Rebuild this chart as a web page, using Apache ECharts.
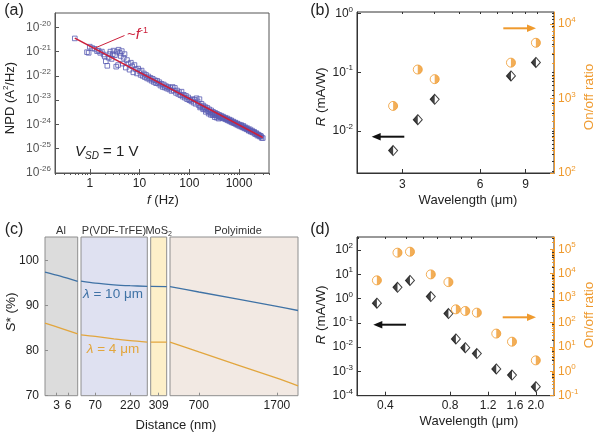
<!DOCTYPE html>
<html><head><meta charset="utf-8">
<script src="https://cdn.jsdelivr.net/npm/echarts@6/dist/echarts.min.js"></script>
<style>html,body{margin:0;padding:0;background:#fff}#c{width:600px;height:436px}</style>
</head><body><div id="c"></div>
<script>
// ---------------- (a) noise power density ----------------
const noiseFreq = [0.5,0.88,0.95,1.0,1.12,1.25,1.4,1.5,1.62,1.75,1.9,2.0,2.1,2.25,2.4,2.5,2.6,2.75,2.9,3.0,3.2,3.4,3.5,3.7,3.8,4.0,4.2,4.4,4.6,4.8,5.0,5.3,5.6,6.0,6.3,6.7,7.1,7.5,7.9,8.4,8.9,9.4,10,
10.5,11,11.6,12.2,12.8,13.5,14.2,15,15.8,16.6,17.5,18.4,19.4,20.4,21.5,22.6,23.8,25,26.3,27.7,29.2,30.7,32.3,34,35.8,37.7,39.7,41.8,44,46.3,48.7,51.3,54,56.8,59.8,63,66.3,69.8,73.5,77.4,81.5,85.8,90.3,95,100,
105,110,116,122,128,134,140,147,154,160,168,176,184,192,200,210,220,230,240,250,262,275,288,300,315,330,345,360,378,396,415,435,455,477,500,525,550,575,603,632,662,694,727,762,798,836,876,918,962,1000,
165,190,215,245,270,295,325,355,390,
1050,1100,1160,1220,1280,1350,1420,1490,1570,1650,1730,1820,1910,2010,2110,2220,2330,2450,2570,2700,2840,3000,
320,410,470,540,590,650,710,780,850,940,1130,1250,1380,1530,1690,1860,2060,2280,2510,2770];
const noisePSD = [3.5e-21,9.5e-22,8.9e-22,1.6e-21,1.4e-21,1.3e-21,1.05e-21,1.1e-21,8.9e-22,1.0e-21,7.6e-22,6.3e-22,4.0e-22,2.6e-22,5.6e-22,7.9e-22,1.0e-21,5.0e-22,7.9e-22,1.1e-21,7.1e-22,2.4e-22,1.0e-21,2.8e-22,1.2e-21,8.9e-22,6.6e-22,1.05e-21,3.2e-22,5.6e-22,7.9e-22,2.2e-22,4.5e-22,3.2e-22,1.8e-22,3.5e-22,2.5e-22,1.4e-22,2.8e-22,1.9e-22,1.26e-22,2.0e-22,1.6e-22,
1.1e-22,1.66e-22,1.0e-22,1.26e-22,8.9e-23,1.1e-22,7.9e-23,9.5e-23,7.1e-23,8.3e-23,6.3e-23,7.6e-23,5.6e-23,6.6e-23,5.0e-23,6.3e-23,4.8e-23,5.5e-23,4.0e-23,4.7e-23,3.5e-23,4.4e-23,3.3e-23,3.8e-23,3.0e-23,3.5e-23,2.75e-23,3.2e-23,2.4e-23,3.5e-23,2.5e-23,3.2e-23,2.0e-23,2.5e-23,1.8e-23,2.1e-23,1.6e-23,2.24e-23,1.4e-23,1.66e-23,1.26e-23,1.5e-23,1.1e-23,1.3e-23,1.0e-23,
1.05e-23,8.9e-24,1.1e-23,7.9e-24,1.05e-23,7.1e-24,1.2e-23,8.9e-24,6.3e-24,1.1e-23,5.6e-24,7.1e-24,5.0e-24,6.0e-24,4.5e-24,5.2e-24,4.0e-24,4.8e-24,3.5e-24,4.2e-24,3.2e-24,3.8e-24,2.8e-24,3.3e-24,2.5e-24,3.0e-24,2.4e-24,2.75e-24,2.2e-24,2.5e-24,2.0e-24,2.3e-24,1.8e-24,2.1e-24,1.74e-24,1.9e-24,1.6e-24,1.78e-24,1.45e-24,1.6e-24,1.32e-24,1.48e-24,1.2e-24,1.32e-24,1.12e-24,1.2e-24,1.0e-24,1.1e-24,9.1e-25,1.0e-24,
5.0e-24,4.2e-24,3.3e-24,2.8e-24,2.5e-24,2.4e-24,2.0e-24,1.9e-24,1.74e-24,
8.3e-25,9.5e-25,7.6e-25,8.7e-25,6.9e-25,7.6e-25,6.3e-25,6.9e-25,5.5e-25,6.3e-25,5.0e-25,5.6e-25,4.6e-25,5.0e-25,4.0e-25,4.4e-25,3.5e-25,3.8e-25,3.2e-25,3.4e-25,2.8e-25,2.75e-25,
2.7e-24,2.2e-24,1.95e-24,1.7e-24,1.55e-24,1.45e-24,1.3e-24,1.2e-24,1.1e-24,1.0e-24,8.5e-25,7.6e-25,6.8e-25,6.0e-25,5.5e-25,5.0e-25,4.5e-25,4.0e-25,3.6e-25,3.2e-25];
const fitFreq = [0.5, 3000];
const fitPSD = [3.6e-21, 2.9e-25];
const aFreqTicks = [1, 10, 100, 1000];
const aPSDTicks = [1e-26, 1e-25, 1e-24, 1e-23, 1e-22, 1e-21, 1e-20];

// ---------------- (b) mid-IR ----------------
const midWavelength = [2.76, 3.44, 4.0, 7.9, 9.87];
const midR = [0.0046, 0.0155, 0.0345, 0.0865, 0.147];
const midOnOff = [795, 2450, 1820, 3030, 5600];
const bWaveTicks = [3, 6, 9];
const bRTicks = [0.01, 0.1, 1];
const bOnOffTicks = [100, 1000, 10000];

// ---------------- (c) S* vs distance ----------------
const layerNames = ['Al', 'P(VDF-TrFE)', 'MoS{sub|2}', 'Polyimide'];
const layerTicks = [[3, 6], [70, 220], [309], [700, 1700]];
const distance = [[0, 4, 8.5], [8.5, 70, 150, 220, 294], [294, 324], [330, 700, 1700, 1970]];
const s10um = [[97.4, 96.5, 95.35], [95.4, 94.95, 94.6, 94.4, 94.25], [94.25, 94.2], [94.2, 93.0, 89.8, 88.9]];
const s4um = [[86.1, 85.0, 83.7], [83.5, 83.15, 82.6, 82.2, 81.9], [81.9, 81.9], [81.9, 79.7, 73.9, 72.2]];
const cYTicks = [70, 80, 90, 100];

// ---------------- (d) vis-NIR ----------------
const visWavelength = [0.365, 0.455, 0.52, 0.65, 0.785, 0.85, 0.94, 1.064, 1.31, 1.55, 2.0];
const visR = [0.64, 2.9, 5.5, 1.2, 0.24, 0.0216, 0.0095, 0.0054, 0.00126, 0.00071, 0.000234];
const visOnOff = [5300, 72000, 79000, 9300, 4500, 345, 295, 252, 35, 16.3, 2.8];
const dWaveTicks = [0.4, 0.8, 1.2, 1.6, 2.0];
const dRTicks = [1e-4, 1e-3, 1e-2, 1e-1, 1, 10, 100];
const dOnOffTicks = [0.1, 1, 10, 100, 1000, 1e4, 1e5];

// ---------------- styling ----------------
const FONT = '"Liberation Sans", Arial, sans-serif';
const INK = '#222';
const AX = '#333';
const ORANGE = '#ef9a2e';
const BLUE = '#3f72a5';
const GOLD = '#e2a63e';
const RED = '#cc1f3a';
const SQUARE = '#5a5db3';

function logMinor(min, max) {
  const out = [];
  for (let e = Math.floor(Math.log10(min)); e <= Math.ceil(Math.log10(max)); e++) {
    for (let k = 1; k <= 9; k++) {
      const v = +(k * Math.pow(10, e)).toPrecision(6);
      if (v >= min && v <= max) out.push(v);
    }
  }
  return out;
}
function supRich(color) {
  return {
    b: { fontSize: 12, color: color, fontFamily: FONT },
    s: { fontSize: 8, color: color, fontFamily: FONT, padding: [0, 0, 8, 0] }
  };
}
const powFmt = v => '{b|10}{s|' + Math.round(Math.log10(v)) + '}';

function mainLogAxis(grid, min, max, ticks, fmt, color, extra) {
  return Object.assign({
    type: 'log', gridIndex: grid, min: min, max: max,
    axisLine: { show: true, onZero: false, lineStyle: { color: color, width: 1 } },
    axisTick: { show: true, inside: true, length: 4, customValues: ticks, lineStyle: { color: color } },
    axisLabel: { customValues: ticks, formatter: fmt, color: color === AX ? INK : color, fontSize: 12, fontFamily: FONT, margin: 4, rich: supRich(color === AX ? INK : color) },
    splitLine: { show: false }, minorTick: { show: false }
  }, extra || {});
}
function minorLogAxis(grid, min, max, color, extra) {
  return Object.assign({
    type: 'log', gridIndex: grid, min: min, max: max,
    axisLine: { show: false }, axisLabel: { show: false }, splitLine: { show: false },
    axisTick: { show: true, inside: true, length: 2, customValues: logMinor(min, max), lineStyle: { color: color } }
  }, extra || {});
}

const cBoxes = [
  { left: 45, width: 32.7, bg: '#dcdcdc', min: 0, max: 8.5 },
  { left: 81, width: 66.3, bg: '#dfe1f1', min: 8.5, max: 294 },
  { left: 150.7, width: 16, bg: '#fdf0c9', min: 294, max: 324 },
  { left: 170, width: 128, bg: '#f2e9e3', min: 330, max: 1970 }
];

const grid = [
  { left: 55, top: 13, width: 214, height: 160, show: true, borderColor: '#555', borderWidth: 1 },
  { left: 357, top: 12, width: 197, height: 161, show: true, borderColor: AX, borderWidth: 1 }
];
cBoxes.forEach(b => grid.push({ left: b.left, top: 237, width: b.width, height: 158.7, show: true, backgroundColor: b.bg, borderColor: '#8e8e8e', borderWidth: 1 }));
grid.push({ left: 357, top: 237, width: 197, height: 158.7, show: true, borderColor: AX, borderWidth: 1 });

const xAxis = [
  mainLogAxis(0, 0.2, 4000, aFreqTicks, v => String(Math.round(v)), '#555', { axisLabel: { customValues: aFreqTicks, formatter: v => String(Math.round(v)), color: INK, fontSize: 12, fontFamily: FONT, margin: 5 } }),
  minorLogAxis(0, 0.2, 4000, '#555'),
  mainLogAxis(1, 2, 11.6, bWaveTicks, v => String(Math.round(v)), AX, { axisLabel: { customValues: bWaveTicks, formatter: v => String(Math.round(v)), color: INK, fontSize: 12, fontFamily: FONT, margin: 6 } }),
  minorLogAxis(1, 2, 11.6, AX)
];
cBoxes.forEach((b, i) => xAxis.push({
  type: 'value', gridIndex: 2 + i, min: b.min, max: b.max,
  axisLine: { show: false },
  axisTick: { show: true, inside: true, length: 3, customValues: layerTicks[i], lineStyle: { color: '#8e8e8e' } },
  axisLabel: { customValues: layerTicks[i], formatter: v => String(v), color: INK, fontSize: 12, fontFamily: FONT, margin: 4 },
  splitLine: { show: false }
}));
xAxis.push(
  mainLogAxis(6, 0.295, 2.43, dWaveTicks, v => v.toFixed(1), AX, { axisLabel: { customValues: dWaveTicks, formatter: v => v.toFixed(1), color: INK, fontSize: 12, fontFamily: FONT, margin: 4 } }),
  minorLogAxis(6, 0.295, 2.43, AX)
);

const yAxis = [
  mainLogAxis(0, 1e-26, 3.9e-20, aPSDTicks, powFmt, '#555'),
  mainLogAxis(1, 0.0019, 1.07, bRTicks, powFmt, AX),
  mainLogAxis(1, 100, 14500, bOnOffTicks, powFmt, ORANGE, { position: 'right' }),
  minorLogAxis(1, 0.0019, 1.07, AX),
  minorLogAxis(1, 100, 14500, ORANGE, { position: 'right' })
];
cBoxes.forEach((b, i) => yAxis.push({
  type: 'value', gridIndex: 2 + i, min: 70, max: 105.2,
  show: i === 0,
  axisLine: { show: false },
  axisTick: { show: true, inside: true, length: 3, customValues: cYTicks, lineStyle: { color: '#8e8e8e' } },
  axisLabel: { customValues: cYTicks, formatter: v => String(v), color: INK, fontSize: 12, fontFamily: FONT, margin: 6 },
  splitLine: { show: false }
}));
yAxis.push(
  mainLogAxis(6, 1e-4, 339, dRTicks, powFmt, AX),
  mainLogAxis(6, 0.1, 316000, dOnOffTicks, powFmt, ORANGE, { position: 'right' }),
  minorLogAxis(6, 1e-4, 339, AX),
  minorLogAxis(6, 0.1, 316000, ORANGE, { position: 'right' })
);
// y indices: a=0, b left=1, b right=2, c=5..8, d left=9, d right=10
// x indices: a=0, b=2, c=4..7, d=8

const zip = (xs, ys) => xs.map((x, i) => [x, ys[i]]);
const series = [
  { type: 'scatter', xAxisIndex: 0, yAxisIndex: 0, data: zip(noiseFreq, noisePSD), symbol: 'rect', symbolSize: 4.6,
    itemStyle: { color: 'rgba(255,255,255,0)', borderColor: SQUARE, borderWidth: 0.9, opacity: 0.9 }, z: 2 },
  { type: 'line', xAxisIndex: 0, yAxisIndex: 0, data: zip(fitFreq, fitPSD), symbol: 'none', lineStyle: { color: RED, width: 1.6 }, z: 5 }
];
function halfMarkers(xi, yiR, yiO, wl, r, oo) {
  series.push(
    { type: 'scatter', xAxisIndex: xi, yAxisIndex: yiR, data: zip(wl, r), symbol: 'diamond', symbolSize: [9, 10],
      itemStyle: { color: '#fff', borderColor: '#111', borderWidth: 1 }, z: 3 },
    { type: 'scatter', xAxisIndex: xi, yAxisIndex: yiR, data: zip(wl, r), symbol: 'path://M2,0L2,2L0,1Z', symbolSize: [4.5, 10], symbolOffset: [-2.25, 0],
      itemStyle: { color: '#111' }, z: 4 },
    { type: 'scatter', xAxisIndex: xi, yAxisIndex: yiO, data: zip(wl, oo), symbol: 'circle', symbolSize: 9,
      itemStyle: { color: '#fff', borderColor: ORANGE, borderWidth: 1 }, z: 3 },
    { type: 'scatter', xAxisIndex: xi, yAxisIndex: yiO, data: zip(wl, oo), symbol: 'path://M0,0A1,1,0,0,1,0,2Z', symbolSize: [4.5, 9], symbolOffset: [2.25, 0],
      itemStyle: { color: ORANGE }, z: 4 }
  );
}
halfMarkers(2, 1, 2, midWavelength, midR, midOnOff);
cBoxes.forEach((b, i) => {
  series.push(
    { type: 'line', xAxisIndex: 4 + i, yAxisIndex: 5 + i, data: zip(distance[i], s10um[i]), symbol: 'none', smooth: 0.3, lineStyle: { color: BLUE, width: 1.3 } },
    { type: 'line', xAxisIndex: 4 + i, yAxisIndex: 5 + i, data: zip(distance[i], s4um[i]), symbol: 'none', smooth: 0.3, lineStyle: { color: GOLD, width: 1.3 } }
  );
});
halfMarkers(8, 9, 10, visWavelength, visR, visOnOff);
series.forEach(s => { s.silent = true; s.animation = false; });

// ---------------- annotations ----------------
function txt(x, y, text, o) {
  o = o || {};
  const size = o.size || 13, color = o.color || INK;
  const rich = {
    i: { fontSize: size, fontStyle: 'italic', fontFamily: FONT, fill: color, color: color },
    sup: { fontSize: Math.round(size * 0.62), fontFamily: FONT, fill: color, color: color, padding: [0, 0, Math.round(size * 0.6), 0] },
    sub: { fontSize: Math.round(size * 0.62), fontFamily: FONT, fill: color, color: color, padding: [Math.round(size * 0.5), 0, 0, 0] },
    isub: { fontSize: Math.round(size * 0.65), fontStyle: 'italic', fontFamily: FONT, fill: color, color: color, padding: [Math.round(size * 0.5), 0, 0, 0] }
  };
  return { type: 'text', x: x, y: y, rotation: o.rot || 0, silent: true, z: 10,
    style: { text: text, fill: color, fontSize: size, fontFamily: FONT, align: o.align || 'center', verticalAlign: 'middle', rich: rich } };
}
function arrow(x1, x2, y, color) {
  const d = x2 > x1 ? 1 : -1;
  return [
    { type: 'line', silent: true, z: 10, shape: { x1: x1, y1: y, x2: x2 - d * 6, y2: y }, style: { stroke: color, lineWidth: 2 } },
    { type: 'polygon', silent: true, z: 10, shape: { points: [[x2, y], [x2 - d * 9, y - 3.8], [x2 - d * 9, y + 3.8]] }, style: { fill: color } }
  ];
}
const R90 = Math.PI / 2;
const graphic = [
  txt(14, 11, '(a)', { size: 16 }), txt(320, 11, '(b)', { size: 16 }),
  txt(14, 230, '(c)', { size: 16 }), txt(320, 230, '(d)', { size: 16 }),
  txt(10, 98, 'NPD (A{sup|2}/Hz)', { rot: R90 }),
  txt(163, 200, '{i|f} (Hz)'),
  txt(75, 152, '{i|V}{isub|SD} = 1 V', { size: 15, align: 'left' }),
  txt(127, 35, '~{i|f}{sup|-1}', { size: 15, color: RED, align: 'left' }),
  { type: 'line', silent: true, z: 10, shape: { x1: 124.5, y1: 35.5, x2: 95, y2: 48 }, style: { stroke: RED, lineWidth: 1 } },
  txt(321, 97, '{i|R} (mA/W)', { rot: R90, size: 13.5 }),
  txt(589, 97, 'On/off ratio', { rot: R90, size: 13.5, color: ORANGE }),
  txt(468, 200, 'Wavelength (μm)'),
  txt(11, 312, '{i|S}* (%)', { rot: R90, size: 13.5 }),
  txt(176, 425, 'Distance (nm)'),
  txt(113, 294.5, '{i|λ} = 10 μm', { size: 13.5, color: BLUE }),
  txt(113, 349.5, '{i|λ} = 4 μm', { size: 13.5, color: GOLD }),
  txt(321, 315, '{i|R} (mA/W)', { rot: R90, size: 13.5 }),
  txt(589, 315, 'On/off ratio', { rot: R90, size: 13.5, color: ORANGE }),
  txt(469, 421, 'Wavelength (μm)')
];
const headerX = [61, 114, 158.7, 238];
layerNames.forEach((n, i) => graphic.push(txt(headerX[i], 231, n, { size: 11, color: '#333' })));
graphic.push(...arrow(404.3, 371.7, 136.7, '#111'), ...arrow(503.3, 536, 28.3, ORANGE),
  ...arrow(406, 373.3, 324.7, '#111'), ...arrow(502.7, 536, 317.3, ORANGE));

const chart = echarts.init(document.getElementById('c'), null, { renderer: 'canvas', width: 600, height: 436 });
chart.setOption({
  animation: false,
  backgroundColor: '#fff',
  textStyle: { fontFamily: FONT },
  grid: grid, xAxis: xAxis, yAxis: yAxis, series: series, graphic: graphic
});
</script></body></html>
